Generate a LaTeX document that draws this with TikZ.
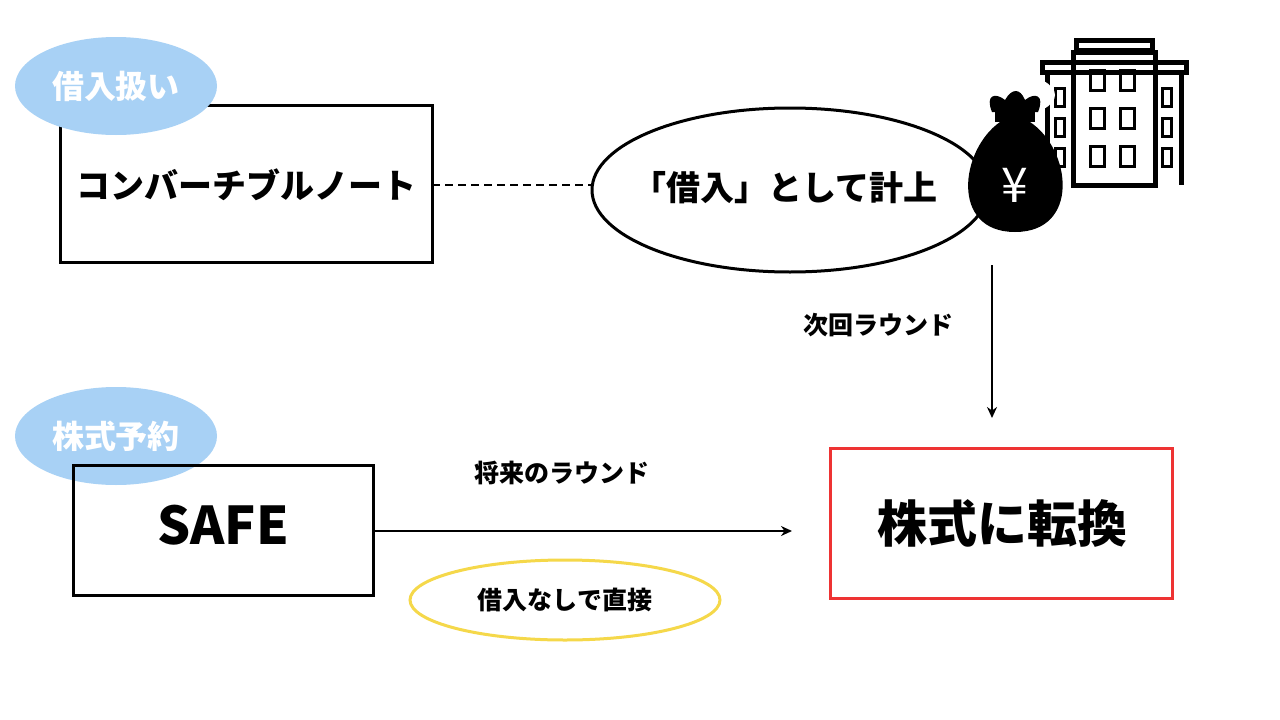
\documentclass[tikz,border=0pt]{standalone}
\usepackage{fontspec}
\setmainfont{Noto Sans CJK JP}
\usetikzlibrary{arrows.meta}
\definecolor{tagblue}{HTML}{A8D1F5}
\definecolor{redb}{HTML}{EE3333}
\definecolor{yel}{HTML}{F5D84A}
\begin{document}
\begin{tikzpicture}[x=1pt,y=-1pt,
  box/.style={draw,line width=3pt,inner sep=0},
  tagtext/.style={text=white,font=\bfseries\fontsize{32}{34}\selectfont},
  lbl/.style={font=\bfseries\fontsize{25}{28}\selectfont},
  arr/.style={line width=2pt,-{Stealth[length=11pt,width=10pt]}}]
\useasboundingbox (0,0) rectangle (1280,720);
\fill[white] (0,0) rectangle (1280,720);
% top box
\draw[box] (60,105) rectangle (432,262);
\node[font=\bfseries\fontsize{34}{38}\selectfont] (cn) at (246,185) {コンバーチブルノート};
\coordinate (cnR) at (432,185);
\fill[tagblue] (116,86) ellipse (101pt and 49pt);
\node[tagtext] (t1) at (116,86) {借入扱い};
% ellipse
\draw[line width=3pt] (790,190) ellipse (198pt and 82pt);
\node[font=\bfseries\fontsize{34}{38}\selectfont] (loan) at (785,188) {「借入」として計上};
\coordinate (loanL) at (592,185);
\draw[line width=2pt,dash pattern=on 8pt off 5pt] (cnR) -- (loanL);
% building
\begin{scope}[line width=5pt]
\draw (1076,40) rectangle (1152,50);
\draw (1073,52) rectangle (1155,185);
\draw (1042,62) rectangle (1186,72);
\draw (1047,72) -- (1047,185) (1181,72) -- (1181,185);
\foreach \y in {88,118,148}{
 \draw[line width=3pt] (1055,\y) rectangle ++(9,18);
 \draw[line width=3pt] (1162,\y) rectangle ++(9,18);}
\foreach \y in {70,108,146}{
 \draw[line width=3pt] (1090,\y) rectangle ++(14,20);
 \draw[line width=3pt] (1120,\y) rectangle ++(14,20);}
\end{scope}
% money bag
\fill[white] (1015,95) ellipse (40pt and 20pt);
\fill[black] (1000,122) .. controls (960,150) and (950,232) .. (1015,232)
  .. controls (1080,232) and (1072,150) .. (1030,122) -- cycle;
\fill[black] (995,122) rectangle (1035,112);
\fill[black] (992,112) .. controls (985,95) and (995,92) .. (1005,100)
  .. controls (1012,88) and (1020,88) .. (1025,100) .. controls (1035,92) and (1045,95) .. (1038,112) -- cycle;
\node[text=white,font=\fontsize{48}{48}\selectfont] (yen) at (1015,185) {¥};
% vertical arrow
\coordinate (va) at (992,265);
\coordinate (vb) at (992,418);
\draw[arr] (va) -- (vb);
\node[lbl] (next) at (878,325) {次回ラウンド};
% red box
\draw[box,redb] (830,448) rectangle (1172,598);
\node[font=\bfseries\fontsize{50}{54}\selectfont] (conv) at (1002,523) {株式に転換};
% SAFE
\fill[tagblue] (116,436) ellipse (101pt and 49pt);
\node[tagtext] (t2) at (116,436) {株式予約};
\draw[box] (73,465) rectangle (373,595);
\node[font=\bfseries\fontsize{52}{56}\selectfont] (safe) at (223,525) {SAFE};
\coordinate (sa) at (373,531);
\coordinate (sb) at (792,531);
\draw[arr] (sa) -- (sb);
\node[lbl] (fut) at (562,473) {将来のラウンド};
\draw[yel,line width=3pt] (565,600) ellipse (155pt and 40pt);
\node[lbl] (dir) at (565,600) {借入なしで直接};
\end{tikzpicture}
\end{document}
